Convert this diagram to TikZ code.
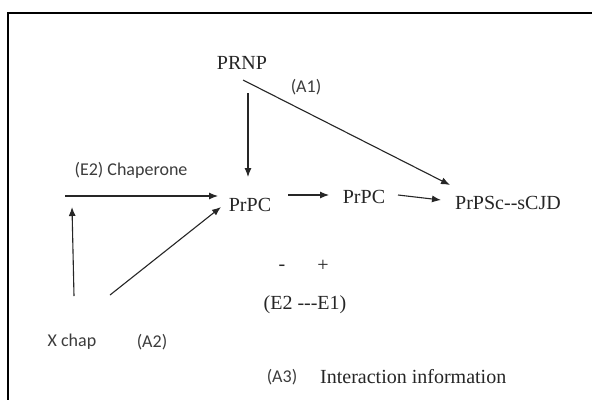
\documentclass[tikz,border=0pt]{standalone}
\usepackage{fontspec}
\setmainfont{Liberation Serif}
\newfontfamily\labelfont{Carlito}
\usetikzlibrary{arrows.meta}
\definecolor{ink}{gray}{0.15}
\begin{document}
\begin{tikzpicture}[x=1pt,y=-1pt,
  serifnode/.style={inner sep=0pt,text=ink,font=\fontsize{20}{22}\selectfont},
  sansnode/.style={inner sep=0pt,text=ink!90,font=\labelfont\fontsize{18}{20}\selectfont},
  arr/.style={draw=ink,line width=1.1pt,-{Latex[length=9pt,width=7pt]}},
  framerule/.style={draw=black,line width=2pt}]
\useasboundingbox (0,0) rectangle (592,400);
\fill[white] (0,0) rectangle (592,400);
% frame
\coordinate (ftl) at (8,12.5);
\coordinate (ftr) at (592,12.5);
\coordinate (fbl) at (8,400);
\draw[framerule] (ftr) -- (ftl) -- (fbl);
% nodes
\node[serifnode] (prnp) at (242,63) {PRNP};
\node[sansnode] (a1) at (306,87) {(A1)};
\node[serifnode] (prpc1) at (250,205) {PrPC};
\node[serifnode] (prpc2) at (364,197) {PrPC};
\node[serifnode] (prpsc) at (508,203) {PrPSc-{}-sCJD};
\node[sansnode] (chap) at (131,170) {(E2) Chaperone};
\node[sansnode] (xchap) at (72,342) {X chap};
\node[sansnode] (a2) at (152,342) {(A2)};
\node[serifnode] (minus) at (282,268) {-};
\node[serifnode] (plus) at (323,266) {+};
\node[serifnode] (e2e1) at (305,305) {(E2 -{}-{}-E1)};
\node[sansnode] (a3) at (282,377) {(A3)};
\node[serifnode,anchor=west] (inter) at (320,377) {Interaction information};
% connector end points
\coordinate (vtop) at (248,93);
\coordinate (vend) at (248,177);
\coordinate (a1start) at (243,80);
\coordinate (a1end) at (450,185);
\coordinate (hstart) at (65,196);
\coordinate (hend) at (218,196);
\coordinate (upbot) at (74,296);
\coordinate (uptop) at (72,207);
\coordinate (dgbot) at (110,295);
\coordinate (dgtop) at (221,207);
\coordinate (m1s) at (288,195);
\coordinate (m1e) at (329,195);
\coordinate (m2s) at (398,195);
\coordinate (m2e) at (441,200);
% connectors
\draw[arr] (vtop) -- (vend);
\draw[arr] (a1start) -- (a1end);
\draw[arr] (hstart) -- (hend);
\draw[arr] (upbot) -- (uptop);
\draw[arr] (dgbot) -- (dgtop);
\draw[arr] (m1s) -- (m1e);
\draw[arr] (m2s) -- (m2e);
\end{tikzpicture}
\end{document}
